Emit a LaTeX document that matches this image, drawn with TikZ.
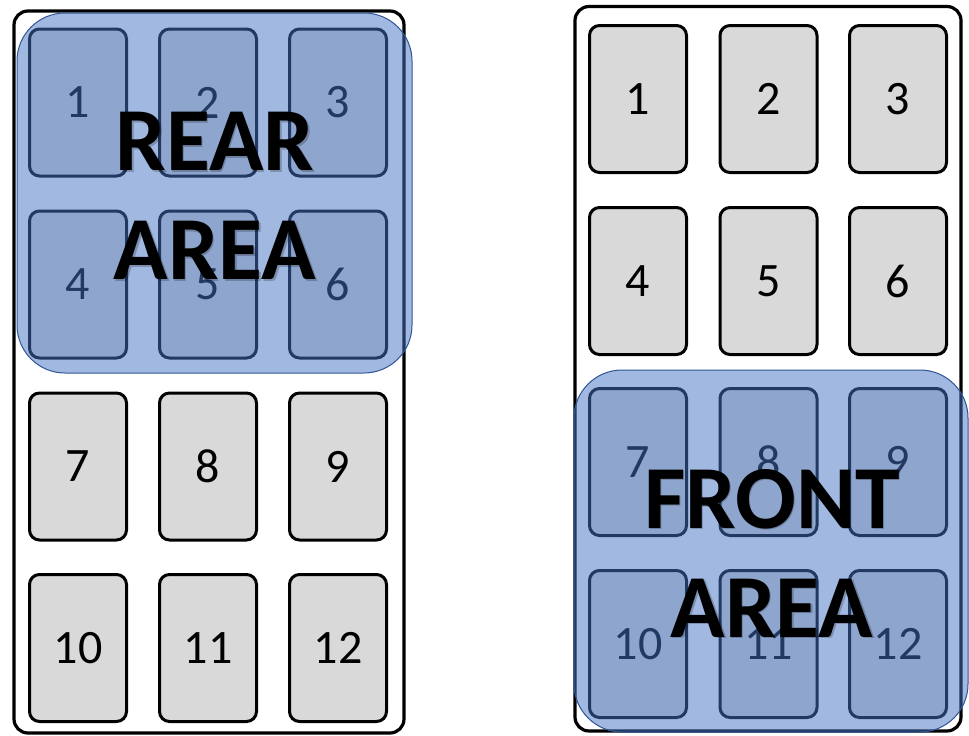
\documentclass[tikz,border=0pt]{standalone}
\usepackage{fontspec}
\setmainfont{Carlito}
\definecolor{cellgray}{HTML}{D9D9D9}
\definecolor{areablue}{HTML}{4472C4}
\definecolor{areaedge}{HTML}{2F5597}
\begin{document}
\begin{tikzpicture}[x=1pt,y=-1pt,
  panel/.style={draw=black,line width=3.2pt,rounded corners=14pt,fill=white},
  cell/.style={draw=black,line width=3pt,rounded corners=10pt,fill=cellgray,
    minimum width=97pt,minimum height=147pt,inner sep=0pt,
    font=\fontsize{48}{54}\selectfont},
  area/.style={draw=areaedge,line width=1pt,fill=areablue,fill opacity=0.5,rounded corners=48pt},
  bigtext/.style={font=\fontsize{90}{109}\selectfont\bfseries,align=center,text=black},
  shadowtext/.style={font=\fontsize{90}{109}\selectfont\bfseries,align=center,text=black,text opacity=0.22}]
\useasboundingbox (0,0) rectangle (969,736);
% panels
\draw[panel] (14,11) rectangle (404,733);
\draw[panel] (575,6.5) rectangle (961,731);
% left cells
\foreach \n/\x/\y in {1/78/102.5,2/208/102.5,3/338/102.5,
                      4/78/284.5,5/208/284.5,6/338/284.5,
                      7/78/466.5,8/208/466.5,9/338/466.5,
                      10/78/648,11/208/648,12/338/648}
  \node[cell] (L\n) at (\x,\y) {\n};
% right cells
\foreach \n/\x/\y in {1/638/99,2/768.5/99,3/898/99,
                      4/638/281,5/768.5/281,6/898/281,
                      7/638/462,8/768.5/462,9/898/462,
                      10/638/644,11/768.5/644,12/898/644}
  \node[cell] (R\n) at (\x,\y) {\n};
% highlighted areas
\draw[area] (17,13) rectangle (412,373);
\draw[area] (574,370) rectangle (968,732);
% labels
\node[shadowtext] (rearsh) at (216.5,197.5) {REAR\\AREA};
\node[bigtext] (rear) at (215,196) {REAR\\AREA};
\node[shadowtext] (frontsh) at (773.5,554.5) {FRONT\\AREA};
\node[bigtext] (front) at (772,553) {FRONT\\AREA};
\end{tikzpicture}
\end{document}
